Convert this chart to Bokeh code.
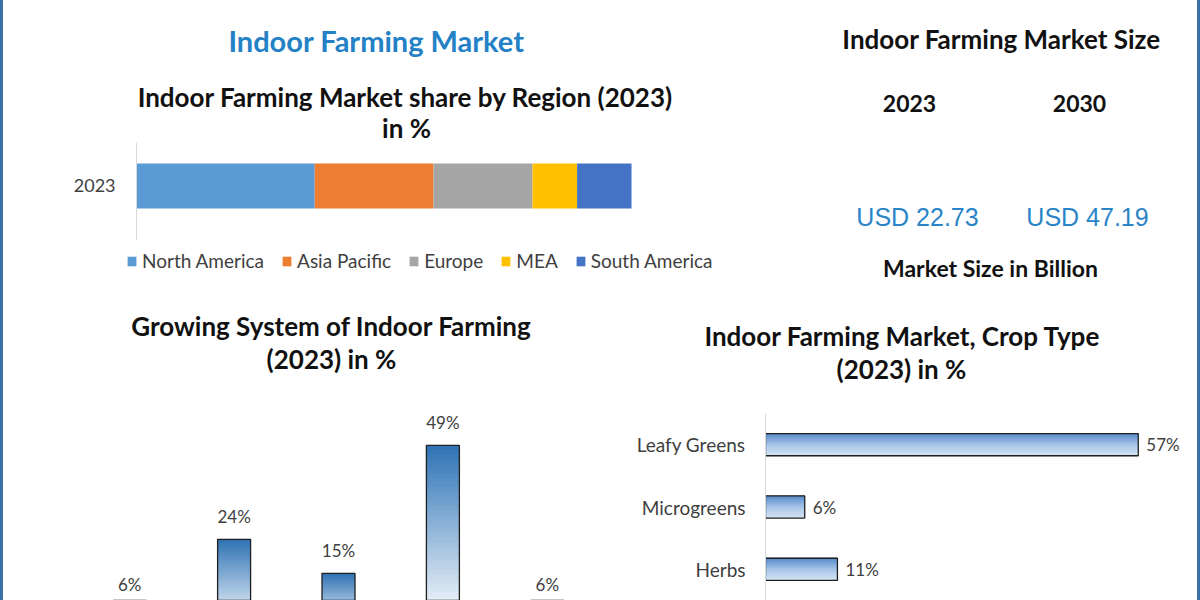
import numpy as np
from bokeh.plotting import figure
from bokeh.models import (ColumnDataSource, Label, LabelSet, Legend, LegendItem,
                          FactorRange, Range1d, Div, FixedTicker)
from bokeh.layouts import row, column
from bokeh.transform import dodge
from bokeh.core.properties import value
from bokeh.embed import file_html
from bokeh.resources import INLINE

# ---------------- data ----------------
main_title = "Indoor Farming Market"

region_title = ["Indoor Farming Market share by Region (2023)", "in %"]
region_year = ["2023"]
regions = ["North America", "Asia Pacific", "Europe", "MEA", "South America"]
region_share = [36, 24, 20, 9, 11]

size_title = "Indoor Farming Market Size"
size_years = ["2023", "2030"]
size_usd = [22.73, 47.19]
size_unit = "Market Size in Billion"

growing_title = ["Growing System of Indoor Farming", "(2023) in %"]
growing_systems = ["Hydroponics", "Aeroponics", "Aquaponics", "Soil-based", "Hybrid"]
growing_share = [6, 24, 15, 49, 6]

crop_title = ["Indoor Farming Market, Crop Type", "(2023) in %"]
crop_types = ["Leafy Greens", "Microgreens", "Herbs"]
crop_share = [57, 6, 11]

# ---------------- styles ----------------
region_colors = ["#5B9BD5", "#ED7D31", "#A5A5A5", "#FFC000", "#4472C4"]
FONT = "Lato"
BLUE = "#2481C6"
DARK = "#111111"
GREY_TXT = "#404040"
BG = "#FFFFFF"
EDGE = "#3A6EA5"

vert_stops = [(0.0, "#CFDFF1"), (0.15, "#E6EFF8"), (1.0, "#2E72B4")]
horiz_stops = [(0.0, "#D8E6F5"), (0.5, "#A9C6E8"), (1.0, "#5A8DCC")]


def hex2rgb(h):
    h = h.lstrip("#")
    return np.array([int(h[i:i + 2], 16) for i in (0, 2, 4)], dtype=float)


def grad(stops, f):
    for (f0, c0), (f1, c1) in zip(stops[:-1], stops[1:]):
        if f <= f1:
            t = (f - f0) / (f1 - f0) if f1 > f0 else 0
            c = hex2rgb(c0) * (1 - t) + hex2rgb(c1) * t
            return "#%02x%02x%02x" % tuple(int(round(v)) for v in c)
    return stops[-1][1]


def put_text(p, fx0, fy1, text, px, py, size, color=DARK, style="bold",
             font=FONT, align="center"):
    # px, py: page position; fx0 / fy1: page position of frame left / bottom
    p.add_layout(Label(x=px - fx0, y=fy1 - py, x_units="screen", y_units="screen",
                       text=text, text_font=font, text_font_size=f"{size}px",
                       text_font_style=style, text_color=color,
                       text_align=align, text_baseline="middle"))


def base_fig(w, h, **kw):
    p = figure(width=w, height=h, output_backend="svg", toolbar_location=None,
               frame_align=False, **kw)
    p.grid.visible = False
    p.outline_line_color = None
    p.background_fill_color = BG
    p.border_fill_color = BG
    return p


def text_fig(w, h):
    p = base_fig(w, h, x_range=Range1d(0, 1), y_range=Range1d(0, 1), min_border=0)
    p.axis.visible = False
    return p


def style_axis(ax, size, standoff):
    ax.axis_line_color = "#D9D9D9"
    ax.major_tick_line_color = None
    ax.minor_tick_line_color = None
    ax.major_tick_out = 0
    ax.major_tick_in = 0
    ax.major_label_standoff = standoff
    ax.major_label_text_font = FONT
    ax.major_label_text_font_size = f"{size}px"
    ax.major_label_text_color = GREY_TXT


# ---------------- panel 1: titles + region share ----------------
T1 = 142
p1t = text_fig(747, T1)
put_text(p1t, 3, T1, main_title, 376, 40, 29, color=BLUE)
put_text(p1t, 3, T1, region_title[0], 405, 96, 26)
put_text(p1t, 3, T1, region_title[1], 406, 127, 26)

# frame: page x 73..712, y 142..290 ; 4.95 px per % ; 90 px per row unit
year_pos = list(range(len(region_year)))
p1 = base_fig(747, 290 - T1, x_range=Range1d(-12.73, 116.36),
              y_range=Range1d(-1.161, 0.483),
              min_border_left=70, min_border_right=38, min_border_top=0,
              min_border_bottom=0)
src1 = ColumnDataSource(dict(pos=year_pos,
                             **{r: [v] for r, v in zip(regions, region_share)}))
rends = p1.hbar_stack(regions, y="pos", height=0.5, color=region_colors,
                      line_color=None, source=src1)
p1.xaxis.visible = False
yax = p1.yaxis[0]
style_axis(yax, 18, 21)
yax.ticker = FixedTicker(ticks=year_pos)
yax.major_label_overrides = {p: y for p, y in zip(year_pos, region_year)}
yax.fixed_location = 0
yax.bounds = (-0.606, 0.483)
leg = Legend(items=[LegendItem(label=r, renderers=[g]) for r, g in zip(regions, rends)],
             orientation="horizontal", location=(53, 18), glyph_width=11,
             glyph_height=12, label_standoff=5, spacing=17, padding=0, margin=0,
             border_line_color=None, background_fill_alpha=0,
             label_text_font=FONT, label_text_font_size="19px",
             label_text_color=GREY_TXT)
p1.add_layout(leg)

# ---------------- panel 2: market size ----------------
p2 = text_fig(447, 290)
put_text(p2, 750, 290, size_title, 1001, 38, 26)
year_x = [909, 1079]
usd_x = [917, 1087]
for yr, usd, xx, ux in zip(size_years, size_usd, year_x, usd_x):
    put_text(p2, 750, 290, yr, xx, 103, 23)
    put_text(p2, 750, 290, f"USD {usd:.2f}", ux, 216, 25, color="#2A84C8",
             style="normal", font="Liberation Sans")
put_text(p2, 750, 290, size_unit, 990, 267, 23)

# ---------------- panel 3: growing system ----------------
p3 = base_fig(597, 310, x_range=FactorRange(*growing_systems),
              y_range=Range1d(7.77, 90.2), min_border_left=74, min_border_right=1,
              min_border_top=0, min_border_bottom=0)
p3.axis.visible = False
N = 40
gs, gb, gt, gc = [], [], [], []
for s, v in zip(growing_systems, growing_share):
    for i in range(N):
        gs.append(s)
        gb.append(v * i / N)
        gt.append(min(v, v * (i + 1.6) / N))
        gc.append(grad(vert_stops, (i + 0.5) / N))
p3.vbar(x="s", bottom="b", top="t", width=0.316, color="c", line_color=None,
        source=ColumnDataSource(dict(s=gs, b=gb, t=gt, c=gc)))
src3 = ColumnDataSource(dict(s=growing_systems, v=growing_share,
                             lbl=[f"{v}%" for v in growing_share]))
p3.vbar(x="s", top="v", bottom=0, width=0.316, fill_color=None,
        line_color="#1F1F1F", line_width=1.3, source=src3)
p3.add_layout(LabelSet(x="s", y="v", text="lbl", y_offset=23, source=src3,
                       text_align="center", text_baseline="middle",
                       text_font=value(FONT), text_font_size="17px",
                       text_color=GREY_TXT))
put_text(p3, 77, 600, growing_title[0], 331, 325, 26)
put_text(p3, 77, 600, growing_title[1], 331, 358, 26)

# ---------------- panel 4: crop type ----------------
p4t = text_fig(597, 123)
put_text(p4t, 600, 413, crop_title[0], 902, 335, 26)
put_text(p4t, 600, 413, crop_title[1], 901, 368, 26)

p4 = base_fig(597, 187, y_range=FactorRange(*crop_types[::-1]),
              x_range=Range1d(0, 65.75), min_border_left=165, min_border_right=2,
              min_border_top=0, min_border_bottom=0)
p4.xaxis.visible = False
style_axis(p4.yaxis[0], 19, 20)
src4 = ColumnDataSource(dict(c=crop_types, v=crop_share,
                             lbl=[f"{v}%" for v in crop_share]))
H = 0.355
M = 14
for i in range(M):
    off = -H / 2 + (i + 0.5) * H / M
    p4.hbar(y=dodge("c", off, range=p4.y_range), left=0, right="v",
            height=H / M * 1.6, color=grad(horiz_stops, (i + 0.5) / M),
            line_color=None, source=src4)
p4.hbar(y="c", left=0, right="v", height=H, fill_color=None,
        line_color="#1F1F1F", line_width=1.3, source=src4)
p4.add_layout(LabelSet(x="v", y="c", text="lbl", x_offset=8, source=src4,
                       text_align="left", text_baseline="middle",
                       text_font=value(FONT), text_font_size="17px",
                       text_color=GREY_TXT))

# ---------------- layout ----------------
edge_l = Div(width=3, height=600, margin=0, styles={"background-color": EDGE})
edge_r = Div(width=3, height=600, margin=0, styles={"background-color": EDGE})
body = column(row(column(p1t, p1), p2), row(p3, column(p4t, p4)))
layout = row(edge_l, body, edge_r)

open("out.html", "w").write(file_html(layout, INLINE, title="Indoor Farming Market"))
